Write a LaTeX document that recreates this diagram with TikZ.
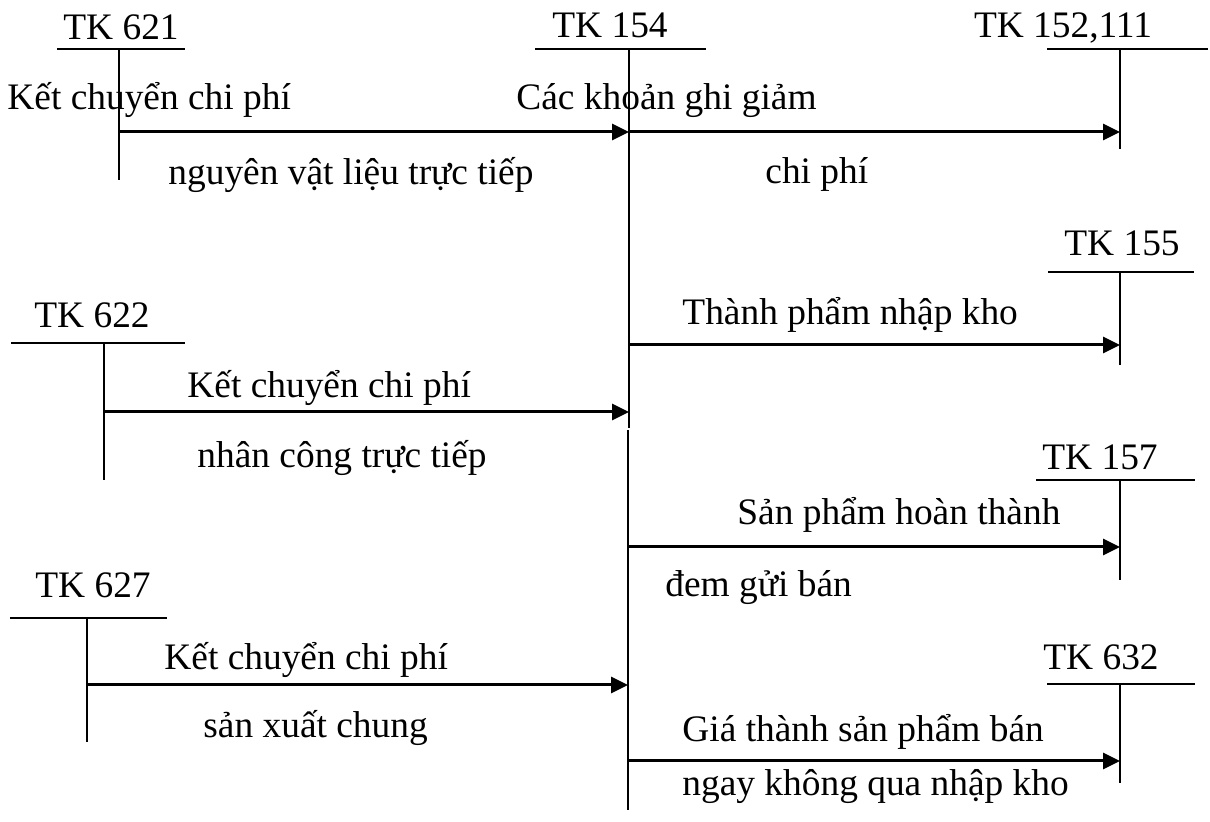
\documentclass[tikz,border=0pt]{standalone}
\usepackage{fontspec}
\setmainfont{Liberation Serif}
\usetikzlibrary{arrows.meta}
\begin{document}
\begin{tikzpicture}[x=0.5pt,y=-0.5pt,
  acct/.style={line width=1pt},
  flow/.style={line width=1.5pt,-{Triangle[length=8.5pt,width=8pt]}},
  lbl/.style={inner sep=0pt,anchor=base west,font=\fontsize{18.7}{22}\selectfont},
  ttl/.style={inner sep=0pt,anchor=base,font=\fontsize{18.7}{22}\selectfont}]
\useasboundingbox (0,0) rectangle (1210,822);

% ---- T-accounts: title, horizontal bar, vertical stem ----
% TK 621
\node[ttl] (t621) at (121,40) {TK 621};
\coordinate (l621) at (57,49);  \coordinate (r621) at (185,49);
\coordinate (v621) at (119,49); \coordinate (e621) at (119,180);
\draw[acct] (l621) -- (r621) (v621) -- (e621);

% TK 154 (central account, stem has a small offset midway)
\node[ttl] (t154) at (610,38) {TK 154};
\coordinate (l154) at (535,49);  \coordinate (r154) at (706,49);
\coordinate (v154) at (629,49);  \coordinate (j154a) at (629,428);
\coordinate (j154b) at (628,430); \coordinate (e154) at (628,810);
\draw[acct] (l154) -- (r154) (v154) -- (j154a) (j154b) -- (e154);

% TK 152,111
\node[ttl] (t152) at (1063,38) {TK 152,111};
\coordinate (l152) at (1047,49); \coordinate (r152) at (1208,49);
\coordinate (v152) at (1120,49); \coordinate (e152) at (1120,149);
\draw[acct] (l152) -- (r152) (v152) -- (e152);

% TK 155
\node[ttl] (t155) at (1122,256) {TK 155};
\coordinate (l155) at (1048,272); \coordinate (r155) at (1194,272);
\coordinate (v155) at (1120,272); \coordinate (e155) at (1120,365);
\draw[acct] (l155) -- (r155) (v155) -- (e155);

% TK 622
\node[ttl] (t622) at (92,328) {TK 622};
\coordinate (l622) at (11,343);  \coordinate (r622) at (185,343);
\coordinate (v622) at (104,343); \coordinate (e622) at (104,480);
\draw[acct] (l622) -- (r622) (v622) -- (e622);

% TK 157
\node[ttl] (t157) at (1100,470) {TK 157};
\coordinate (l157) at (1036,480); \coordinate (r157) at (1195,480);
\coordinate (v157) at (1120,480); \coordinate (e157) at (1120,580);
\draw[acct] (l157) -- (r157) (v157) -- (e157);

% TK 627
\node[ttl] (t627) at (93,598) {TK 627};
\coordinate (l627) at (10,618);  \coordinate (r627) at (167,618);
\coordinate (v627) at (87,618);  \coordinate (e627) at (87,742);
\draw[acct] (l627) -- (r627) (v627) -- (e627);

% TK 632
\node[ttl] (t632) at (1101,670) {TK 632};
\coordinate (l632) at (1047,684); \coordinate (r632) at (1195,684);
\coordinate (v632) at (1120,684); \coordinate (e632) at (1120,783);
\draw[acct] (l632) -- (r632) (v632) -- (e632);

% ---- flows between accounts ----
\coordinate (f1) at (119,132);
\draw[flow] (f1) -- (f1 -| v154);
\coordinate (f2) at (629,132);
\draw[flow] (f2) -- (f2 -| v152);
\coordinate (f3) at (629,345);
\draw[flow] (f3) -- (f3 -| v155);
\coordinate (f4) at (104,412);
\draw[flow] (f4) -- (f4 -| j154a);
\coordinate (f5) at (628,547);
\draw[flow] (f5) -- (f5 -| v157);
\coordinate (f6) at (87,685);
\draw[flow] (f6) -- (f6 -| e154);
\coordinate (f7) at (628,761);
\draw[flow] (f7) -- (f7 -| v632);

% ---- flow descriptions ----
\node[lbl] (d1a) at (7,110)   {Kết chuyển chi phí};
\node[lbl] (d1b) at (168,185) {nguyên vật liệu trực tiếp};
\node[lbl] (d2a) at (516,110) {Các khoản ghi giảm};
\node[lbl] (d2b) at (765,184) {chi phí};
\node[lbl] (d3a) at (682,325) {Thành phẩm nhập kho};
\node[lbl] (d4a) at (187,398) {Kết chuyển chi phí};
\node[lbl] (d4b) at (197,468) {nhân công trực tiếp};
\node[lbl] (d5a) at (737,525) {Sản phẩm hoàn thành};
\node[lbl] (d5b) at (665,597) {đem gửi bán};
\node[lbl] (d6a) at (164,670) {Kết chuyển chi phí};
\node[lbl] (d6b) at (203,738) {sản xuất chung};
\node[lbl] (d7a) at (682,742) {Giá thành sản phẩm bán};
\node[lbl] (d7b) at (682,796) {ngay không qua nhập kho};
\end{tikzpicture}
\end{document}
